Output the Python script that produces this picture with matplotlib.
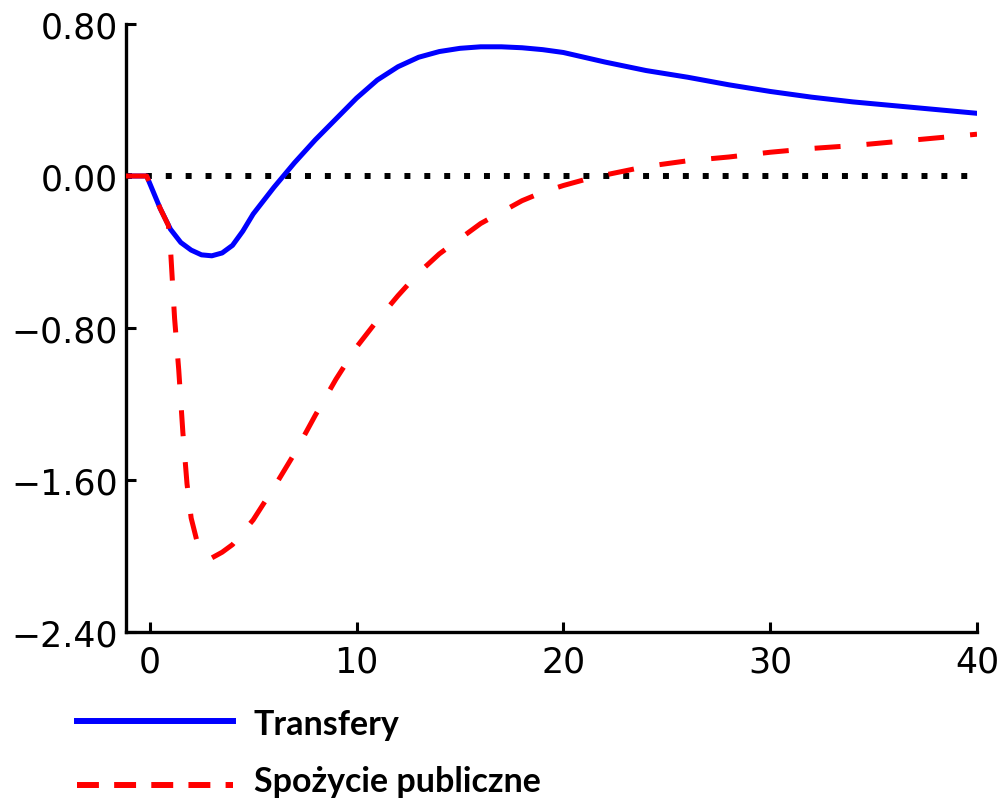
import matplotlib
matplotlib.use("Agg")
import matplotlib.pyplot as plt
from matplotlib.lines import Line2D

# ---- data ----
t_transfery = [-1.15, -0.15, 0.5, 1, 1.5, 2, 2.5, 3, 3.5, 4, 4.5, 5, 6, 7, 8,
               9, 10, 11, 12, 13, 14, 15, 16, 17, 18, 19, 20, 22, 24, 26, 28,
               30, 32, 34, 36, 38, 40]
transfery = [0.0, 0.0, -0.17, -0.28, -0.35, -0.39, -0.415, -0.42, -0.405,
             -0.365, -0.29, -0.20, -0.06, 0.07, 0.19, 0.30, 0.41, 0.505, 0.575,
             0.625, 0.655, 0.672, 0.68, 0.68, 0.675, 0.665, 0.65, 0.60, 0.555,
             0.52, 0.48, 0.445, 0.415, 0.39, 0.37, 0.35, 0.33]

t_spozycie = [-1.15, -0.15, 0.5, 0.9, 1.0, 1.2, 1.4, 1.6, 1.8, 2.0, 2.3, 2.6,
              3.0, 3.5, 4, 5, 6, 7, 8, 9, 10, 11, 12, 13, 14, 15, 16, 17, 18,
              19, 20, 21, 22, 24, 26, 28, 30, 32, 34, 36, 38, 40]
spozycie = [0.0, 0.0, -0.17, -0.26, -0.38, -0.75, -1.02, -1.35, -1.62, -1.80,
            -1.93, -1.99, -2.01, -1.98, -1.94, -1.81, -1.64, -1.46, -1.26, -1.07,
            -0.90, -0.76, -0.63, -0.51, -0.41, -0.33, -0.25, -0.19, -0.13,
            -0.085, -0.05, -0.02, 0.005, 0.05, 0.08, 0.10, 0.125, 0.145, 0.16,
            0.18, 0.20, 0.22]

x_ticks = [0, 10, 20, 30, 40]
y_ticks = [0.80, 0.00, -0.80, -1.60, -2.40]
y_ticklabels = ["0.80", "0.00", "\u22120.80", "\u22121.60", "\u22122.40"]
labels = ["Transfery", "Spożycie publiczne"]

# ---- figure ----
W, H = 1005, 804
fig = plt.figure(figsize=(W / 100, H / 100), dpi=100)
ax = fig.add_axes([126 / W, (H - 633) / H, 851 / W, 608 / H])

ax.plot([-1.15, 39.6], [0, 0], color="black", lw=4.3,
        linestyle=(0, (1.0, 2.33)), dash_capstyle="butt", zorder=1)
ax.plot(t_transfery, transfery, color="#0000ff", lw=3.6, zorder=2,
        solid_joinstyle="round")
ax.plot(t_spozycie, spozycie, color="#ff0000", lw=3.6, zorder=3,
        linestyle=(0, (5.2, 5.2)), dash_capstyle="butt")

ax.set_xlim(-1.15, 40)
ax.set_ylim(-2.4, 0.8)
ax.set_xticks(x_ticks)
ax.set_xticklabels([str(v) for v in x_ticks])
ax.set_yticks(y_ticks)
ax.set_yticklabels(y_ticklabels)

for s in ["top", "right"]:
    ax.spines[s].set_visible(False)
for s in ["left", "bottom"]:
    ax.spines[s].set_linewidth(2.4)
ax.tick_params(direction="in", length=7.5, width=2.2, labelsize=25,
               colors="black")
ax.tick_params(axis="x", pad=9)
ax.tick_params(axis="y", pad=6)

# ---- legend below the axes ----
fig.add_artist(Line2D([77 / W, 233 / W], [(H - 722) / H] * 2,
                      transform=fig.transFigure, color="#0000ff", lw=4.3))
fig.add_artist(Line2D([77 / W, 233 / W], [(H - 786) / H] * 2,
                      transform=fig.transFigure, color="#ff0000", lw=4.3,
                      linestyle=(0, (3.67, 2.55)), dash_capstyle="butt"))
fig.text(254 / W, (H - 735) / H, labels[0], fontsize=24.5, fontweight="bold",
         family="Lato", va="baseline", ha="left")
fig.text(254 / W, (H - 792) / H, labels[1], fontsize=24.5, fontweight="bold",
         family="Lato", va="baseline", ha="left")

fig.savefig("out.png", dpi=100)
